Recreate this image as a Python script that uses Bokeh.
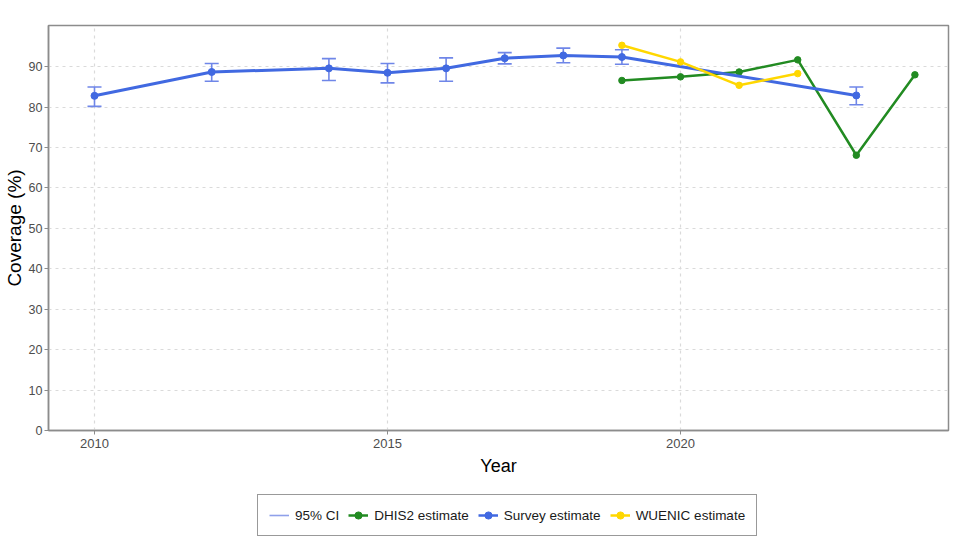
from bokeh.plotting import figure
from bokeh.layouts import column
from bokeh.models import (Legend, LegendItem, Whisker, ColumnDataSource,
                          FixedTicker, TeeHead, Range1d)
from bokeh.embed import file_html
from bokeh.resources import INLINE

# ---- data ----
survey_years = [2010, 2012, 2014, 2015, 2016, 2017, 2018, 2019, 2023]
survey_est = [82.8, 88.7, 89.6, 88.5, 89.6, 92.1, 92.8, 92.4, 82.9]
survey_lo = [80.2, 86.4, 86.6, 86.0, 86.4, 90.7, 91.0, 90.6, 80.6]
survey_hi = [85.0, 90.8, 92.0, 90.8, 92.2, 93.5, 94.6, 94.2, 85.0]

dhis2_years = [2019, 2020, 2021, 2022, 2023, 2024]
dhis2_est = [86.6, 87.5, 88.7, 91.7, 68.1, 88.0]

wuenic_years = [2019, 2020, 2021, 2022]
wuenic_est = [95.3, 91.2, 85.4, 88.3]

x_ticks = [2010, 2015, 2020]
y_ticks = [0, 10, 20, 30, 40, 50, 60, 70, 80, 90]

BLUE = "#4169E1"
GREEN = "#228B22"
GOLD = "#FFD700"
CI_COLOR = "#6f86e8"
CI_LEGEND = "#8fa0ea"
FONT = "Liberation Sans"

p = figure(frame_width=900, frame_height=405, output_backend="svg",
           toolbar_location=None,
           x_range=Range1d(2009.215, 2024.573), y_range=Range1d(0, 100.2),
           min_border_left=40, min_border_top=25, min_border_right=2,
           min_border_bottom=55)

p.background_fill_color = "white"
p.border_fill_color = "white"
p.outline_line_color = "#8c8c8c"
p.outline_line_width = 1.5

# grid
for g in (p.xgrid, p.ygrid):
    g.grid_line_color = "#dadada"
    g.grid_line_dash = "3 4"
    g.grid_line_width = 1.2
p.xgrid.ticker = FixedTicker(ticks=x_ticks)
p.ygrid.ticker = FixedTicker(ticks=y_ticks)

# axes
p.xaxis.ticker = FixedTicker(ticks=x_ticks)
p.yaxis.ticker = FixedTicker(ticks=y_ticks)
p.xaxis.axis_label = "Year"
p.yaxis.axis_label = "Coverage (%)"
for ax in (p.xaxis, p.yaxis):
    ax.axis_line_color = "#8c8c8c"
    ax.axis_line_width = 1.5
    ax.major_tick_line_color = "#8c8c8c"
    ax.major_tick_out = 4
    ax.major_tick_in = 0
    ax.minor_tick_line_color = None
    ax.major_label_text_font = FONT
    ax.major_label_text_color = "#4d4d4d"
    ax.axis_label_text_font = FONT
    ax.axis_label_text_font_style = "normal"
    ax.axis_label_text_color = "black"
p.xaxis.major_label_text_font_size = "13px"
p.yaxis.major_label_text_font_size = "12.5px"
p.xaxis.axis_label_text_font_size = "18px"
p.yaxis.axis_label_text_font_size = "19px"
p.xaxis.major_label_standoff = 4
p.xaxis.axis_label_standoff = 5
p.yaxis.major_label_standoff = 2
p.yaxis.axis_label_standoff = 1

# CI: stems as segments, caps as whisker heads
ci_src = ColumnDataSource(dict(x=survey_years, lo=survey_lo, hi=survey_hi))
p.segment(x0="x", y0="lo", x1="x", y1="hi", source=ci_src,
          line_color=CI_COLOR, line_width=1.6)
wh = Whisker(base="x", lower="lo", upper="hi", source=ci_src,
             line_color=None,
             upper_head=TeeHead(size=14, line_color=CI_COLOR, line_width=1.6),
             lower_head=TeeHead(size=14, line_color=CI_COLOR, line_width=1.6))
p.add_layout(wh)

# DHIS2
p.line(dhis2_years, dhis2_est, line_color=GREEN, line_width=2.5)
p.scatter(dhis2_years, dhis2_est, size=6.5, fill_color=GREEN, line_color=GREEN)
# Survey
p.line(survey_years, survey_est, line_color=BLUE, line_width=3)
p.scatter(survey_years, survey_est, size=7, fill_color=BLUE, line_color=BLUE)
# WUENIC
p.line(wuenic_years, wuenic_est, line_color=GOLD, line_width=2.5)
p.scatter(wuenic_years, wuenic_est, size=6.5, fill_color=GOLD, line_color=GOLD)

# ---- legend strip (separate figure; its data lie outside its ranges) ----
lf = figure(width=942, height=51, output_backend="svg", toolbar_location=None,
            x_range=Range1d(0, 1), y_range=Range1d(0, 1),
            min_border=0, x_axis_type=None, y_axis_type=None)
lf.outline_line_color = None
lf.grid.visible = False
lf.border_fill_color = "white"
lf.background_fill_color = "white"

l_ci = lf.segment(x0="x", y0="lo", x1="x", y1="hi", source=ci_src,
                  line_color=CI_LEGEND, line_width=1.6)
l_g1 = lf.line(dhis2_years, dhis2_est, line_color=GREEN, line_width=2.5)
l_g2 = lf.scatter(dhis2_years, dhis2_est, size=6.5, fill_color=GREEN, line_color=GREEN)
l_b1 = lf.line(survey_years, survey_est, line_color=BLUE, line_width=2.5)
l_b2 = lf.scatter(survey_years, survey_est, size=6.5, fill_color=BLUE, line_color=BLUE)
l_y1 = lf.line(wuenic_years, wuenic_est, line_color=GOLD, line_width=2.5)
l_y2 = lf.scatter(wuenic_years, wuenic_est, size=6.5, fill_color=GOLD, line_color=GOLD)

legend = Legend(items=[
    LegendItem(label="95% CI", renderers=[l_ci]),
    LegendItem(label="DHIS2 estimate", renderers=[l_g1, l_g2]),
    LegendItem(label="Survey estimate", renderers=[l_b1, l_b2]),
    LegendItem(label="WUENIC estimate", renderers=[l_y1, l_y2]),
], orientation="horizontal", location=(209, 0))
legend.label_text_font = FONT
legend.label_text_font_size = "13.5px"
legend.label_text_color = "#1a1a1a"
legend.glyph_width = 20
legend.glyph_height = 18
legend.label_standoff = 6
legend.spacing = 9
legend.padding = 11
legend.margin = 0
legend.border_line_color = "#333333"
legend.border_line_width = 1.5
legend.background_fill_color = "white"
lf.add_layout(legend, "center")

layout = column(p, lf, spacing=0)
open("out.html", "w").write(file_html(layout, INLINE))
